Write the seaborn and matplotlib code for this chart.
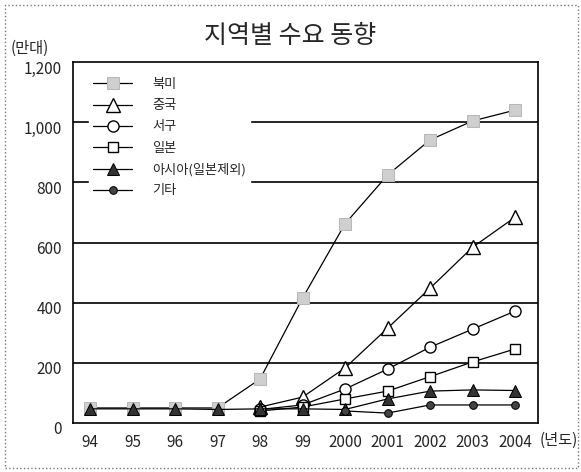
import numpy as np
import pandas as pd
import matplotlib
matplotlib.use("Agg")
import matplotlib.pyplot as plt
import matplotlib.transforms as mtransforms
import seaborn as sns
from matplotlib.patches import Rectangle

sns.set_style("white")
plt.rcParams["font.family"] = ["Noto Sans CJK KR", "DejaVu Sans"]

YEARS = ["94", "95", "96", "97", "98", "99", "2000", "2001", "2002", "2003", "2004"]

# values in 만대 (None = not plotted)
north_america = [50, 50, 50, 50, 146, 415, 662, 824, 941, 1004, 1040]
china = [None, None, None, None, 53, 86, 183, 315, 448, 584, 684]
west_europe = [None, None, None, None, 45, 60, 113, 179, 252, 312, 372]
japan = [None, None, None, None, 40, 53, 80, 106, 154, 203, 246]
asia_ex_japan = [47, 47, 47, 45, 47, 47, 45, 80, 106, 110, 108]
others = [None, None, None, None, None, None, 40, 33, 60, 60, 60]

SERIES = [
    ("북미", north_america, dict(marker="s", markersize=9, markerfacecolor="#cfcfcf",
                               markeredgecolor="#b8b8b8")),
    ("중국", china, dict(marker="^", markersize=10, markerfacecolor="white",
                        markeredgecolor="black", markeredgewidth=1.0)),
    ("서구", west_europe, dict(marker="o", markersize=8, markerfacecolor="white",
                             markeredgecolor="black", markeredgewidth=1.0)),
    ("일본", japan, dict(marker="s", markersize=6.5, markerfacecolor="white",
                       markeredgecolor="black", markeredgewidth=1.0)),
    ("아시아(일본제외)", asia_ex_japan, dict(marker="^", markersize=8, markerfacecolor="#333333",
                                       markeredgecolor="black")),
    ("기타", others, dict(marker="o", markersize=5.5, markerfacecolor="#444444",
                        markeredgecolor="black")),
]

fig = plt.figure(figsize=(5.81, 4.72), dpi=100)
ax = fig.add_axes([73 / 581, 1 - 423 / 472, (538 - 73) / 581, (423 - 62) / 472])

for label, vals, style in SERIES:
    df = pd.DataFrame({"x": np.arange(len(YEARS)), "y": vals}).dropna()
    sns.lineplot(data=df, x="x", y="y", ax=ax, color="black", linewidth=0.9,
                 label=label, zorder=3, **style)

for yv in [200, 400, 600, 800, 1000]:
    ax.axhline(yv, color="black", linewidth=1.2, zorder=1)

ax.set_ylim(0, 1200)
ax.set_xlim(-0.4, 10.54)
ax.set_yticks([0, 200, 400, 600, 800, 1000, 1200])
ax.set_yticklabels(["0", "200", "400", "600", "800", "1,000", "1,200"], fontsize=11)
ax.set_xticks(np.arange(len(YEARS)))
ax.set_xticklabels(YEARS, fontsize=11)
ax.tick_params(length=0, pad=8)
ax.set_xlabel("")
ax.set_ylabel("")
for sp in ax.spines.values():
    sp.set_color("black")
    sp.set_linewidth(1.2)

# y labels sit a little below their gridlines in the original
shift = mtransforms.ScaledTranslation(0, -5 / 100, fig.dpi_scale_trans)
for t in ax.get_yticklabels():
    t.set_transform(t.get_transform() + shift)

leg = ax.legend(loc="upper left", bbox_to_anchor=(0.02, 0.985), fontsize=9.5,
                frameon=True, facecolor="white", edgecolor="white", framealpha=1,
                handlelength=3.0, handletextpad=1.5, labelspacing=0.62,
                borderpad=0.3)
leg.set_zorder(5)

fig.text(0.5, 1 - 36 / 472, "지역별 수요 동향", ha="center", va="center",
         fontsize=18, fontweight="medium")
fig.text(0.018, 1 - 48 / 472, "(만대)", ha="left", va="center", fontsize=11)
fig.text(0.928, 1 - 440 / 472, "(년도)", ha="left", va="center", fontsize=11)

fig.patches.append(Rectangle((5 / 581, 4 / 472), 573 / 581, 463 / 472,
                             transform=fig.transFigure, fill=False,
                             edgecolor="#777777", linestyle=":", linewidth=1))

plt.savefig("out.png", dpi=100)
plt.close()
